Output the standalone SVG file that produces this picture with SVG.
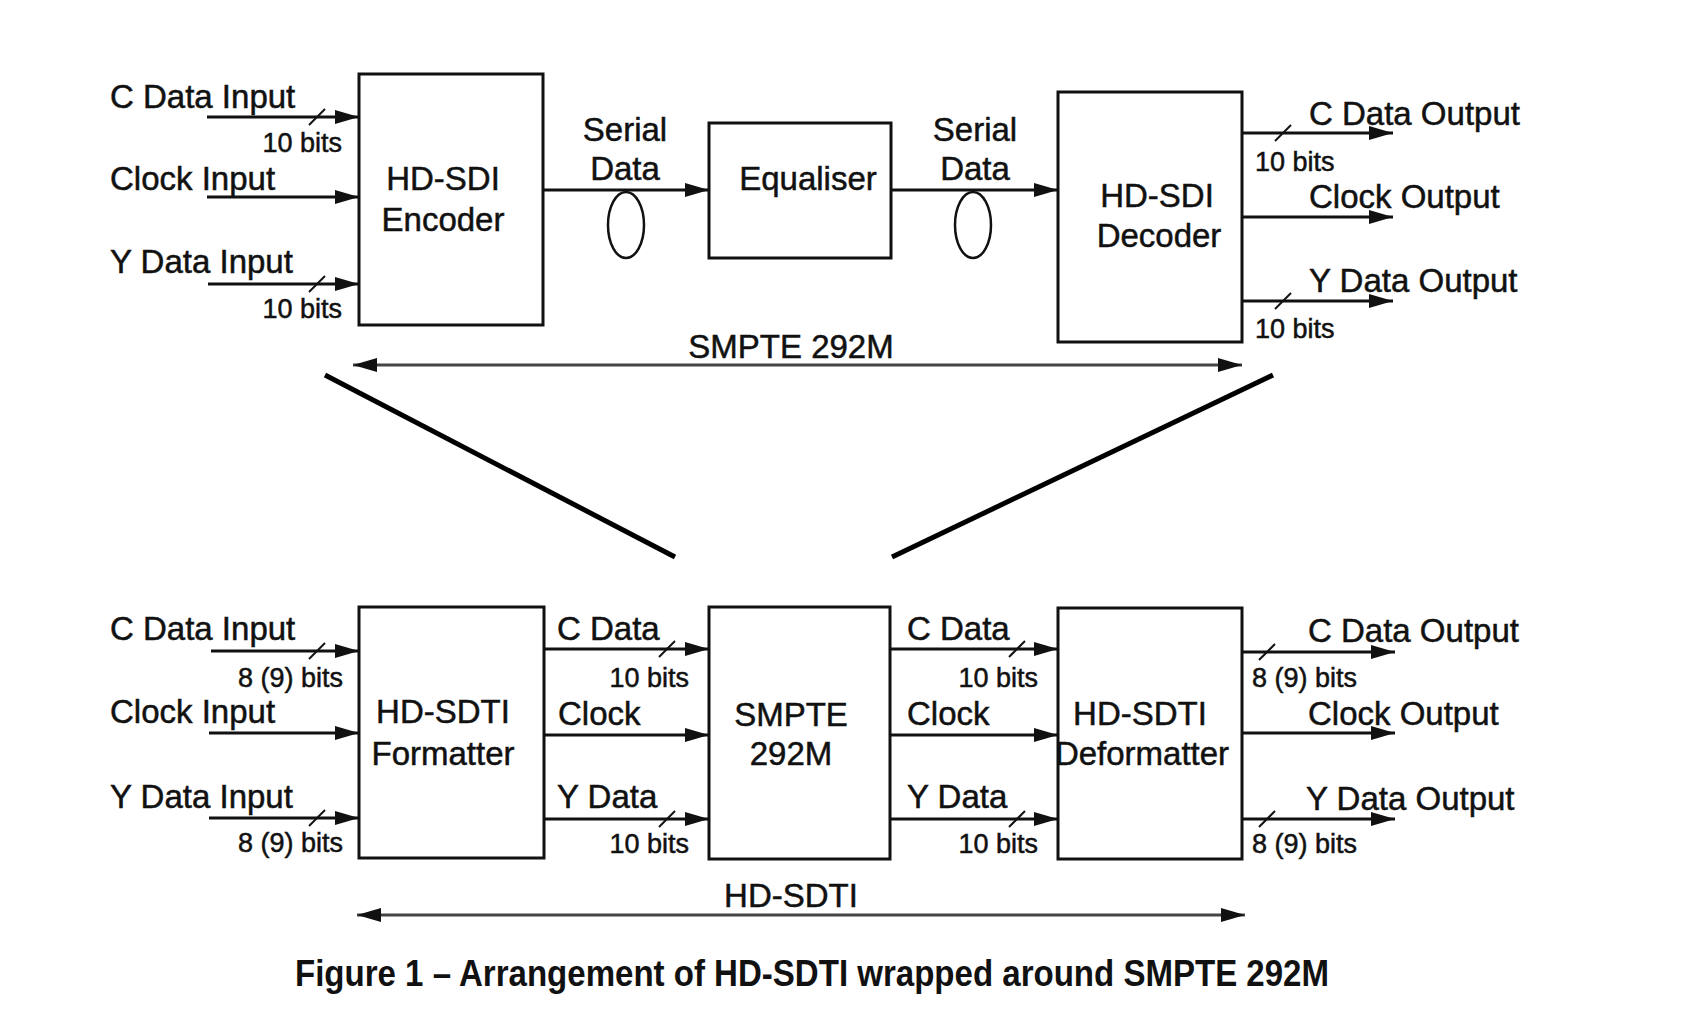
<svg xmlns="http://www.w3.org/2000/svg" width="1706" height="1018" viewBox="0 0 1706 1018">
<defs>
<marker id="ah" markerUnits="userSpaceOnUse" markerWidth="26" markerHeight="14" refX="24" refY="7" orient="auto-start-reverse">
<path d="M0,0 L24,7 L0,14 z" fill="#111"/>
</marker>
</defs>
<style>
text{font-family:"Liberation Sans",Arial,sans-serif;fill:#111;stroke:#111;stroke-width:0.5}
.lb{font-size:33px}
.sm{font-size:27px}
.bx{font-size:33px;text-anchor:middle}
.box{fill:#fff;stroke:#111;stroke-width:3}
.ln{stroke:#111;stroke-width:3;fill:none}
.ar{stroke:#111;stroke-width:3;fill:none;marker-end:url(#ah)}
.da{stroke:#444;stroke-width:3;fill:none;marker-end:url(#ah);marker-start:url(#ah)}
.sl{stroke:#111;stroke-width:2}
.dg{stroke:#000;stroke-width:5}
.el{fill:none;stroke:#111;stroke-width:2.5}
.cap{stroke:none}
</style>
<rect width="1706" height="1018" fill="#fff"/>

<g id="connectors">
<line class="ar" x1="207" y1="117" x2="359" y2="117"/>
<line class="ar" x1="207" y1="197" x2="359" y2="197"/>
<line class="ar" x1="208" y1="284" x2="359" y2="284"/>
<line class="sl" x1="309" y1="125" x2="325" y2="109"/>
<line class="sl" x1="309" y1="292" x2="325" y2="276"/>
<line class="ar" x1="543" y1="190" x2="709" y2="190"/>
<line class="ar" x1="891" y1="190" x2="1058" y2="190"/>
<ellipse class="el" cx="626" cy="225" rx="18" ry="33"/>
<ellipse class="el" cx="973" cy="225" rx="18" ry="33"/>
<line class="ar" x1="1242" y1="133" x2="1393" y2="133"/>
<line class="ar" x1="1242" y1="217" x2="1393" y2="217"/>
<line class="ar" x1="1242" y1="301" x2="1393" y2="301"/>
<line class="sl" x1="1275" y1="141" x2="1291" y2="125"/>
<line class="sl" x1="1275" y1="309" x2="1291" y2="293"/>
<line class="da" x1="353" y1="365" x2="1242" y2="365"/>
<line class="dg" x1="325" y1="375" x2="675" y2="557"/>
<line class="dg" x1="1273" y1="375" x2="892" y2="557"/>
<line class="ar" x1="211" y1="651" x2="359" y2="651"/>
<line class="ar" x1="209" y1="733" x2="359" y2="733"/>
<line class="ar" x1="209" y1="818" x2="359" y2="818"/>
<line class="sl" x1="309" y1="659" x2="325" y2="643"/>
<line class="sl" x1="309" y1="826" x2="325" y2="810"/>
<line class="ar" x1="544" y1="649" x2="709" y2="649"/>
<line class="ar" x1="544" y1="735" x2="709" y2="735"/>
<line class="ar" x1="544" y1="819" x2="709" y2="819"/>
<line class="sl" x1="659" y1="657" x2="675" y2="641"/>
<line class="sl" x1="659" y1="827" x2="675" y2="811"/>
<line class="ar" x1="890" y1="649" x2="1058" y2="649"/>
<line class="ar" x1="890" y1="735" x2="1058" y2="735"/>
<line class="ar" x1="890" y1="819" x2="1058" y2="819"/>
<line class="sl" x1="1009" y1="657" x2="1025" y2="641"/>
<line class="sl" x1="1009" y1="827" x2="1025" y2="811"/>
<line class="ar" x1="1242" y1="652" x2="1395" y2="652"/>
<line class="ar" x1="1242" y1="733" x2="1395" y2="733"/>
<line class="ar" x1="1242" y1="819" x2="1395" y2="819"/>
<line class="sl" x1="1259" y1="660" x2="1275" y2="644"/>
<line class="sl" x1="1259" y1="827" x2="1275" y2="811"/>
<line class="da" x1="357" y1="915" x2="1245" y2="915"/>
</g>

<g id="labels">
<text class="lb" x="110" y="108">C Data Input</text>
<text class="sm" x="342" y="152" text-anchor="end">10 bits</text>
<text class="lb" x="110" y="190">Clock Input</text>
<text class="lb" x="110" y="273">Y Data Input</text>
<text class="sm" x="342" y="318" text-anchor="end">10 bits</text>
<text class="bx" x="625" y="141">Serial</text>
<text class="bx" x="625" y="180">Data</text>
<text class="bx" x="975" y="141">Serial</text>
<text class="bx" x="975" y="180">Data</text>
<text class="lb" x="1309" y="125">C Data Output</text>
<text class="sm" x="1255" y="171">10 bits</text>
<text class="lb" x="1309" y="208">Clock Output</text>
<text class="lb" x="1309" y="292">Y Data Output</text>
<text class="sm" x="1255" y="338">10 bits</text>
<text class="bx" x="791" y="358">SMPTE 292M</text>

<text class="lb" x="110" y="640">C Data Input</text>
<text class="sm" x="343" y="687" text-anchor="end">8 (9) bits</text>
<text class="lb" x="110" y="723">Clock Input</text>
<text class="lb" x="110" y="808">Y Data Input</text>
<text class="sm" x="343" y="852" text-anchor="end">8 (9) bits</text>
<text class="lb" x="557" y="640">C Data</text>
<text class="sm" x="689" y="687" text-anchor="end">10 bits</text>
<text class="lb" x="558" y="725">Clock</text>
<text class="lb" x="557" y="808">Y Data</text>
<text class="sm" x="689" y="853" text-anchor="end">10 bits</text>
<text class="lb" x="907" y="640">C Data</text>
<text class="sm" x="1038" y="687" text-anchor="end">10 bits</text>
<text class="lb" x="907" y="725">Clock</text>
<text class="lb" x="907" y="808">Y Data</text>
<text class="sm" x="1038" y="853" text-anchor="end">10 bits</text>
<text class="lb" x="1308" y="642">C Data Output</text>
<text class="sm" x="1252" y="687">8 (9) bits</text>
<text class="lb" x="1308" y="725">Clock Output</text>
<text class="lb" x="1306" y="810">Y Data Output</text>
<text class="sm" x="1252" y="853">8 (9) bits</text>
<text class="bx" x="791" y="907">HD-SDTI</text>
</g>

<g id="encoder">
<rect class="box" x="359" y="74" width="184" height="251"/>
<text class="bx" x="443" y="190">HD-SDI</text>
<text class="bx" x="443" y="231">Encoder</text>
</g>
<g id="equaliser">
<rect class="box" x="709" y="123" width="182" height="135"/>
<text class="bx" x="808" y="190">Equaliser</text>
</g>
<g id="decoder">
<rect class="box" x="1058" y="92" width="184" height="250"/>
<text class="bx" x="1157" y="207">HD-SDI</text>
<text class="bx" x="1159" y="247">Decoder</text>
</g>
<g id="formatter">
<rect class="box" x="359" y="607" width="185" height="251"/>
<text class="bx" x="443" y="723">HD-SDTI</text>
<text class="bx" x="443" y="765">Formatter</text>
</g>
<g id="smpte">
<rect class="box" x="709" y="607" width="181" height="252"/>
<text class="bx" x="791" y="726">SMPTE</text>
<text class="bx" x="791" y="765">292M</text>
</g>
<g id="deformatter">
<rect class="box" x="1058" y="608" width="184" height="251"/>
<text class="bx" x="1140" y="725">HD-SDTI</text>
<text class="bx" x="1142" y="765">Deformatter</text>
</g>

<text class="cap" x="812" y="986" text-anchor="middle" font-size="36" font-weight="bold" textLength="1034" lengthAdjust="spacingAndGlyphs">Figure 1 – Arrangement of HD-SDTI wrapped around SMPTE 292M</text>
</svg>
